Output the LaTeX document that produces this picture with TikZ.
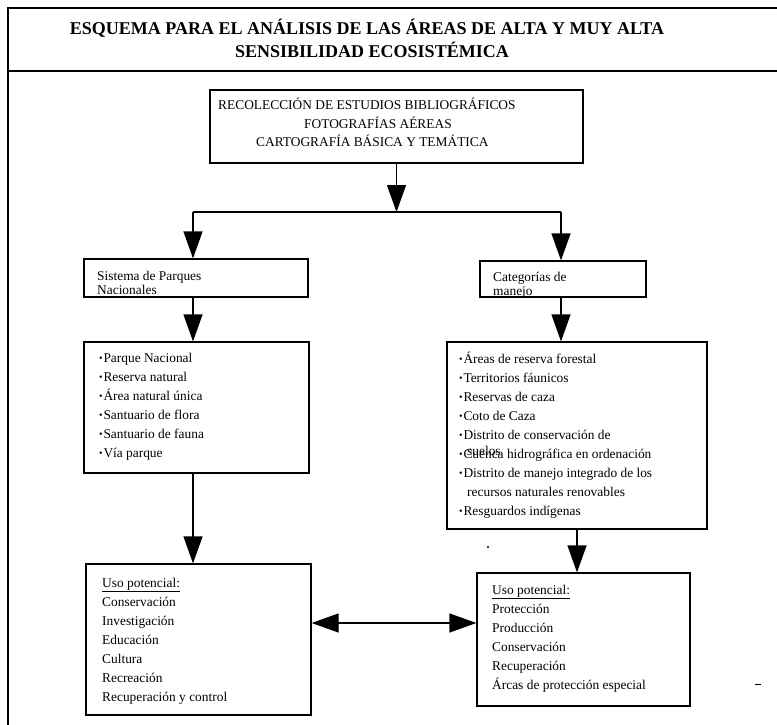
\documentclass[tikz,border=0pt]{standalone}
\usepackage{fontspec}
\setmainfont{Liberation Serif}
\usetikzlibrary{arrows.meta}
\newcommand\bul{\raisebox{0.8pt}{\fontsize{10}{10}\selectfont•}\hspace{0.8pt}}
\tikzset{
  box/.style={draw, line width=1.2pt, inner sep=0pt},
  txt/.style={anchor=base west, inner sep=0pt, font=\fontsize{13.4}{15}\selectfont},
  ttl/.style={anchor=base, inner sep=0pt, font=\fontsize{18}{20}\selectfont\bfseries},
  conn/.style={line width=1.2pt},
  arr/.style={line width=1.2pt, -{Triangle[length=27pt,width=19pt]}},
  arrb/.style={line width=1.2pt, {Triangle[length=27pt,width=19pt]}-{Triangle[length=27pt,width=19pt]}},
}
\begin{document}
\begin{tikzpicture}[x=1pt,y=-1pt]
\useasboundingbox (0,0) rectangle (777,725);
% outer frame
\coordinate (fTL) at (8,8);
\coordinate (fTR) at (777,8);
\coordinate (fML) at (8,71);
\coordinate (fMR) at (777,71);
\coordinate (fBL) at (8,725);
\draw[conn] (fTR) -- (fTL) -- (fBL);
\draw[line width=1.6pt] (fML) -- (fMR);
% title
\node[ttl] (t1) at (367,35) {ESQUEMA PARA EL ANÁLISIS DE LAS ÁREAS DE ALTA Y MUY ALTA};
\node[ttl] (t2) at (372,58) {SENSIBILIDAD ECOSISTÉMICA};
% boxes
\node[box, minimum width=373pt, minimum height=73pt] (top) at (396.5,126.5) {};
\node[box, minimum width=224pt, minimum height=38pt] (sis) at (196,278) {};
\node[box, minimum width=166pt, minimum height=36pt] (cat) at (563,279) {};
\node[box, minimum width=225pt, minimum height=131pt] (llist) at (196.5,407.5) {};
\node[box, minimum width=260pt, minimum height=187pt] (rlist) at (577,435.5) {};
\node[box, minimum width=225pt, minimum height=151pt] (lbot) at (198.5,639.5) {};
\node[box, minimum width=213pt, minimum height=133pt] (rbot) at (583.5,639.5) {};
% top box text
\node[txt] (a1) at (218,109.5) {RECOLECCIÓN DE ESTUDIOS BIBLIOGRÁFICOS};
\node[txt] (a2) at (304,128.5) {FOTOGRAFÍAS AÉREAS};
\node[txt] (a3) at (256,146.5) {CARTOGRAFÍA BÁSICA Y TEMÁTICA};
% sistema / categorias
\node[txt] (s1) at (97,280) {Sistema de Parques};
\node[txt] (s2) at (97,294.5) {Nacionales};
\node[txt] (c1) at (493,281) {Categorías de};
\node[txt] (c2) at (493,295.5) {manejo};
% left list
\node[txt] (l1) at (99,362) {\bul Parque Nacional};
\node[txt] (l2) at (99,381) {\bul Reserva natural};
\node[txt] (l3) at (99,400) {\bul Área natural única};
\node[txt] (l4) at (99,419) {\bul Santuario de flora};
\node[txt] (l5) at (99,438) {\bul Santuario de fauna};
\node[txt] (l6) at (99,457) {\bul Vía parque};
% right list
\node[txt] (r1) at (459,363) {\bul Áreas de reserva forestal};
\node[txt] (r2) at (459,382) {\bul Territorios fáunicos};
\node[txt] (r3) at (459,401) {\bul Reservas de caza};
\node[txt] (r4) at (459,420) {\bul Coto de Caza};
\node[txt] (r5) at (459,439) {\bul Distrito de conservación de};
\node[txt] (r5b) at (467,455) {suelos};
\node[txt] (r6) at (459,458) {\bul Cuenca hidrográfica en ordenación};
\node[txt] (r7) at (459,477) {\bul Distrito de manejo integrado de los};
\node[txt] (r7b) at (467,496) {recursos naturales renovables};
\node[txt] (r8) at (459,515) {\bul Resguardos indígenas};
% left bottom
\node[txt] (u1) at (102,587) {\underline{Uso potencial:}};
\node[txt] (u2) at (102,606) {Conservación};
\node[txt] (u3) at (102,625) {Investigación};
\node[txt] (u4) at (102,644) {Educación};
\node[txt] (u5) at (102,663) {Cultura};
\node[txt] (u6) at (102,682) {Recreación};
\node[txt] (u7) at (102,701) {Recuperación y control};
% right bottom
\node[txt] (v1) at (492,594) {\underline{Uso potencial:}};
\node[txt] (v2) at (492,613) {Protección};
\node[txt] (v3) at (492,632) {Producción};
\node[txt] (v4) at (492,651) {Conservación};
\node[txt] (v5) at (492,670) {Recuperación};
\node[txt] (v6) at (492,689) {Árcas de protección especial};
% connectors
\coordinate (spL) at (193,212);
\coordinate (spR) at (561,212);
\coordinate (spM) at (396.5,212);
\coordinate (dy) at (0,623);
\draw[conn] (spL) -- (spR);
\draw[arr] (top.south) -- (spM);
\draw[arr] (spL) -- (spL |- sis.north);
\draw[arr] (spR) -- (spR |- cat.north);
\draw[arr] (sis.south -| spL) -- (llist.north -| spL);
\draw[arr] (cat.south -| spR) -- (rlist.north -| spR);
\draw[arr] (llist.south -| spL) -- (lbot.north -| spL);
\draw[arr] (rlist.south) -- (rlist.south |- rbot.north);
\draw[arrb] (lbot.east |- dy) -- (rbot.west |- dy);
% scan marks
\coordinate (dot) at (488,547);
\fill (dot) circle (1.1pt);
\coordinate (dsh1) at (755,684);
\coordinate (dsh2) at (761,684);
\draw[line width=1pt] (dsh1) -- (dsh2);
\end{tikzpicture}
\end{document}
